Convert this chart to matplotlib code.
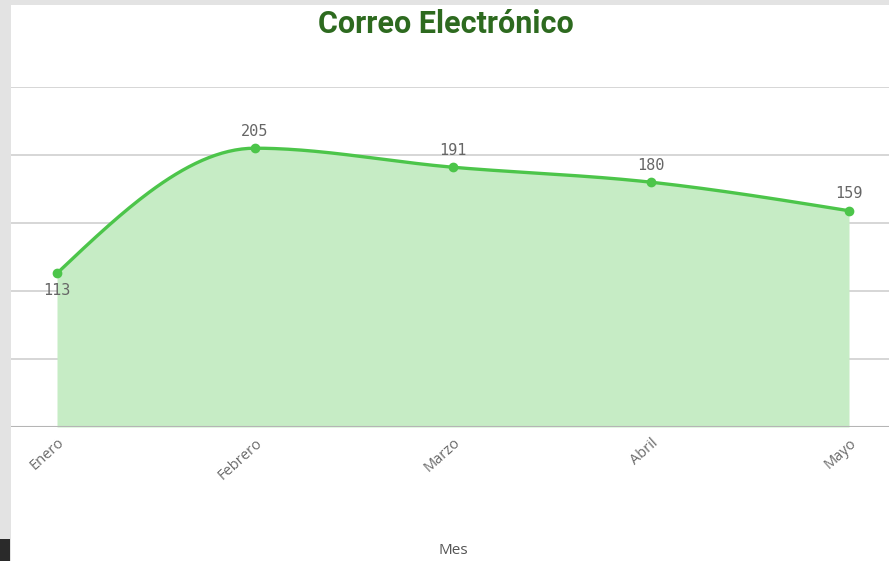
import numpy as np
import matplotlib
matplotlib.use("Agg")
import matplotlib.pyplot as plt
from matplotlib.patches import Rectangle

months = ["Enero", "Febrero", "Marzo", "Abril", "Mayo"]
values = [113, 205, 191, 180, 159]
title = "Correo Electrónico"
xlabel = "Mes"

def monotone_curve(x, y, n=60):
    # monotone-X cubic (as in d3.curveMonotoneX)
    x = np.asarray(x, float); y = np.asarray(y, float)
    h = np.diff(x); d = np.diff(y) / h
    m = np.zeros_like(y)
    for i in range(1, len(y) - 1):
        s0, s1 = d[i - 1], d[i]
        p = (s0 * h[i] + s1 * h[i - 1]) / (h[i - 1] + h[i])
        m[i] = (np.sign(s0) + np.sign(s1)) * min(abs(s0), abs(s1), 0.5 * abs(p))
    m[0] = (3 * d[0] - m[1]) / 2
    m[-1] = (3 * d[-1] - m[-2]) / 2
    xs, ys = [], []
    for i in range(len(x) - 1):
        t = np.linspace(0, 1, n, endpoint=(i == len(x) - 2))
        h00 = 2*t**3 - 3*t**2 + 1; h10 = t**3 - 2*t**2 + t
        h01 = -2*t**3 + 3*t**2; h11 = t**3 - t**2
        xs.append(x[i] + t * h[i])
        ys.append(h00*y[i] + h10*h[i]*m[i] + h01*y[i+1] + h11*h[i]*m[i+1])
    return np.concatenate(xs), np.concatenate(ys)

W, H = 889, 561
fig = plt.figure(figsize=(W/100, H/100), dpi=100, facecolor="#e3e3e3")
# white panel
fig.patches.append(Rectangle((11/W, 0), 1 - 11/W, (H-5)/H, transform=fig.transFigure,
                             facecolor="white", edgecolor="none", zorder=-10))
fig.patches.append(Rectangle((0, 0), 10/W, 22/H, transform=fig.transFigure,
                             facecolor="#2a2a2a", edgecolor="none", zorder=-10))

ax = fig.add_axes([11/W, (H-427)/H, 1 - 11/W, (427-87)/H])
ax.patch.set_visible(False)
x = np.arange(len(months))
ax.set_xlim((11-57)/198, (889-57)/198)
ax.set_ylim(0, 250)

for gy in [50, 100, 150, 200, 250]:
    ax.axhline(gy, color="#d3d3d3", lw=1.3, zorder=1)
ax.axhline(0, color="#b5b5b5", lw=1.5, zorder=4)

cx, cy = monotone_curve(x, values)
ax.fill_between(cx, 0, cy, color="#c6ecc5", lw=0, zorder=2)
ax.plot(cx, cy, color="#4cc54a", lw=2.4, zorder=3, solid_capstyle="round")
ax.plot(x, values, "o", color="#4cc54a", ms=6, zorder=5)

for i, v in enumerate(values):
    below = i == 0
    ax.annotate(str(v), (x[i], v), xytext=(0, -17 if below else 17), textcoords="offset pixels",
                ha="center", va="center", fontsize=11, color="#666666", family="DejaVu Sans Mono")

for s in ax.spines.values():
    s.set_visible(False)
ax.set_yticks([])
ax.set_xticks(x)
ax.set_xticklabels(months, rotation=42, ha="right", va="top", rotation_mode="anchor",
                   fontsize=10.5, color="#6a6a6a", family="Open Sans")
ax.tick_params(axis="x", length=0, pad=6)

fig.text(453/W, 1 - 550/H, xlabel, ha="center", va="center", fontsize=11, color="#555555", family="Open Sans")
fig.text(446/W, 1 - 24/H, title, ha="center", va="center", fontsize=22, fontweight="bold",
         color="#2d6a1f", family="Roboto")

fig.savefig("out.png", dpi=100, facecolor=fig.get_facecolor())
